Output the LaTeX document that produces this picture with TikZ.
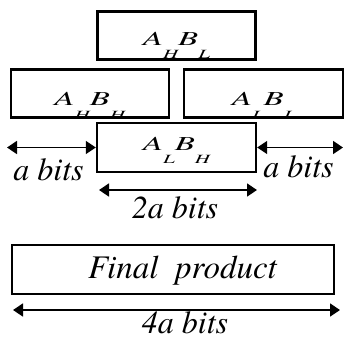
\documentclass[tikz,border=0pt]{standalone}
\usepackage{fontspec}
\usepackage{graphicx}
\setmainfont{texgyretermes}[Extension=.otf, UprightFont=*-regular, ItalicFont=*-italic,
    BoldFont=*-bold, BoldItalicFont=*-bolditalic]
\usetikzlibrary{positioning,arrows.meta}

\newcommand\lowsub[1]{\raisebox{-23pt}{\fontsize{21}{21}\selectfont #1}}
\newcommand\prodAB[2]{\scalebox{1}[0.6]{A\lowsub{#1}B\lowsub{#2}}}

\tikzset{
    box/.style={draw, line width=2.4pt, inner sep=0pt, minimum height=48pt,
        text depth=0pt, text height=#1, font=\fontsize{33}{36}\selectfont\itshape},
    box/.default=12pt,
    span/.style={{Triangle[length=10pt,width=13pt]}-{Triangle[length=10pt,width=13pt]}, line width=1.5pt},
    bits/.style={anchor=base, inner sep=0pt, font=\fontsize{32}{36}\selectfont\itshape}
}

\begin{document}
\begin{tikzpicture}[x=1pt,y=-1pt]
    \useasboundingbox (0,0) rectangle (344,340);
    \node[box=19pt, minimum width=158pt] (hl) at (176.5,35.5) {\prodAB{H}{L}}; %
    \node[box=24pt, minimum width=158pt, below left=7.5pt and 6.5pt of hl.south] (hh) {\prodAB{H}{H}};
    \node[box=24pt, minimum width=159pt, below right=7.5pt and 6.5pt of hl.south] (ll) {\prodAB{L}{L}};
    \node[box=5pt, minimum width=159pt, minimum height=49pt] (lh) at (176.5,147.5) {\prodAB{L}{H}};
    \node[box=17pt, minimum width=322pt, minimum height=49pt] (final) at (173,269.5) {\hspace{19pt}Final\ \ product};
    \coordinate (al) at (7,147.5);
    \coordinate (ar) at (343,147.5);
    \coordinate (tl) at (99,190);
    \coordinate (tr) at (257,190);
    \coordinate (fl) at (13,310);
    \coordinate (fr) at (340,310);
    \draw[span] (al) -- (lh.west);
    \draw[span] (lh.east) -- (ar);
    \draw[span] (tl) -- (tr);
    \draw[span] (fl) -- (fr);
    \node[bits] (abl) at (48.5,180) {a bits};
    \node[bits] (abr) at (298.5,177) {a bits};
    \node[bits] (tab) at (175,218) {2a bits};
    \node[bits] (fab) at (185,333) {4a bits};
\end{tikzpicture}
\end{document}
